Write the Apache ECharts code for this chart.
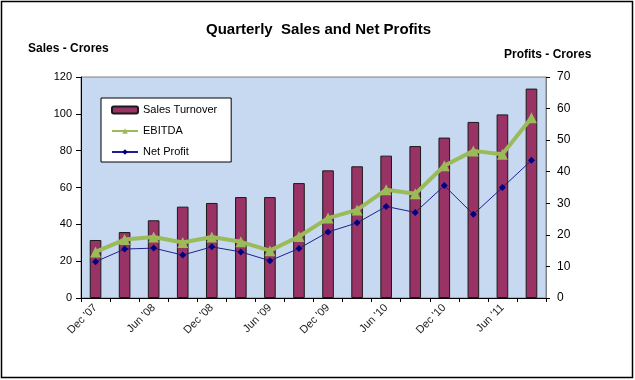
<!DOCTYPE html>
<html>
<head>
<meta charset="utf-8">
<script src="https://cdn.jsdelivr.net/npm/echarts@6/dist/echarts.min.js"></script>
<style>
html,body{margin:0;padding:0;background:#fff;}
#chart{width:635px;height:380px;}
</style>
</head>
<body>
<div id="chart"></div>
<script>
const categories = ["Dec '07","Mar '08","Jun '08","Sep '08","Dec '08","Mar '09","Jun '09","Sep '09",
                    "Dec '09","Mar '10","Jun '10","Sep '10","Dec '10","Mar '11","Jun '11","Sep '11"];
const salesTurnover = [31.5, 35.8, 42.2, 49.6, 51.6, 54.8, 54.8, 62.4, 69.3, 71.5, 77.3, 82.5, 87.1, 95.6, 99.7, 113.7];
const ebitda = [14.6, 18.5, 19.3, 17.6, 19.3, 17.8, 15.0, 19.5, 25.3, 27.9, 34.3, 33.0, 41.9, 46.6, 45.5, 57.1];
const netProfit = [11.5, 15.5, 15.8, 13.6, 16.2, 14.6, 11.8, 15.7, 20.9, 23.8, 29.0, 27.1, 35.6, 26.5, 35.0, 43.6];
const leftTicks = {min: 0, max: 120, interval: 20};
const rightTicks = {min: 0, max: 70, interval: 10};

const chart = echarts.init(document.getElementById('chart'), null, {renderer: 'canvas'});
const FONT = 'Liberation Sans, Arial, sans-serif';
chart.setOption({
  backgroundColor: '#ffffff',
  animation: false,
  textStyle: {fontFamily: FONT},
  title: {
    text: 'Quarterly  Sales and Net Profits',
    left: 201, top: 17,
    textStyle: {fontSize: 15, fontWeight: 'bold', color: '#000', fontFamily: FONT}
  },
  graphic: [
    {type: 'rect', shape: {x: 1.5, y: 1.5, width: 631, height: 376},
     style: {fill: 'none', stroke: '#000', lineWidth: 1.5}, z: 100},
    {type: 'text', left: 28, top: 43,
     style: {text: 'Sales - Crores', font: 'bold 12px ' + FONT, fill: '#000'}},
    {type: 'text', left: 504, top: 49,
     style: {text: 'Profits - Crores', font: 'bold 12px ' + FONT, fill: '#000'}}
  ],
  legend: {
    orient: 'vertical',
    left: 101, top: 98,
    backgroundColor: '#ffffff',
    borderColor: '#000', borderWidth: 1,
    padding: [5, 14, 3, 10],
    itemWidth: 26, itemHeight: 7, itemGap: 7,
    textStyle: {fontSize: 11, lineHeight: 14, color: '#000', fontFamily: FONT},
    data: ['Sales Turnover', 'EBITDA', 'Net Profit']
  },
  grid: {
    left: 81, right: 89, top: 77, bottom: 82,
    show: true, backgroundColor: '#C6D9F0', borderColor: '#808080', borderWidth: 1
  },
  xAxis: {
    type: 'category',
    data: categories,
    boundaryGap: true,
    axisLine: {lineStyle: {color: '#000', width: 1}},
    axisTick: {show: true, length: 4, interval: 0, lineStyle: {color: '#000'}},
    axisLabel: {interval: 1, rotate: 45, margin: 8, fontSize: 11, color: '#222', fontFamily: FONT}
  },
  yAxis: [
    {
      type: 'value', min: leftTicks.min, max: leftTicks.max, interval: leftTicks.interval,
      axisLine: {show: true, lineStyle: {color: '#000'}},
      axisTick: {show: true, length: 5, lineStyle: {color: '#000'}},
      axisLabel: {fontSize: 11, color: '#000', margin: 9, fontFamily: FONT},
      splitLine: {show: false}
    },
    {
      type: 'value', position: 'right', min: rightTicks.min, max: rightTicks.max, interval: rightTicks.interval,
      axisLine: {show: true, lineStyle: {color: '#808080'}},
      axisTick: {show: true, length: 4, lineStyle: {color: '#000'}},
      axisLabel: {fontSize: 12, color: '#000', margin: 11, fontFamily: FONT},
      splitLine: {show: false}
    }
  ],
  series: [
    {
      name: 'Sales Turnover', type: 'bar', yAxisIndex: 0,
      data: salesTurnover, barWidth: '40%',
      itemStyle: {color: '#993366', borderColor: '#1a1a1a', borderWidth: 1}
    },
    {
      name: 'EBITDA', type: 'line', yAxisIndex: 1,
      data: ebitda, symbol: 'triangle', symbolSize: 11,
      lineStyle: {color: '#9BBB59', width: 4},
      itemStyle: {color: '#9BBB59'}
    },
    {
      name: 'Net Profit', type: 'line', yAxisIndex: 1,
      data: netProfit, symbol: 'diamond', symbolSize: 7,
      lineStyle: {color: '#1f1f90', width: 1},
      itemStyle: {color: '#000080'}
    }
  ]
});
</script>
</body>
</html>
